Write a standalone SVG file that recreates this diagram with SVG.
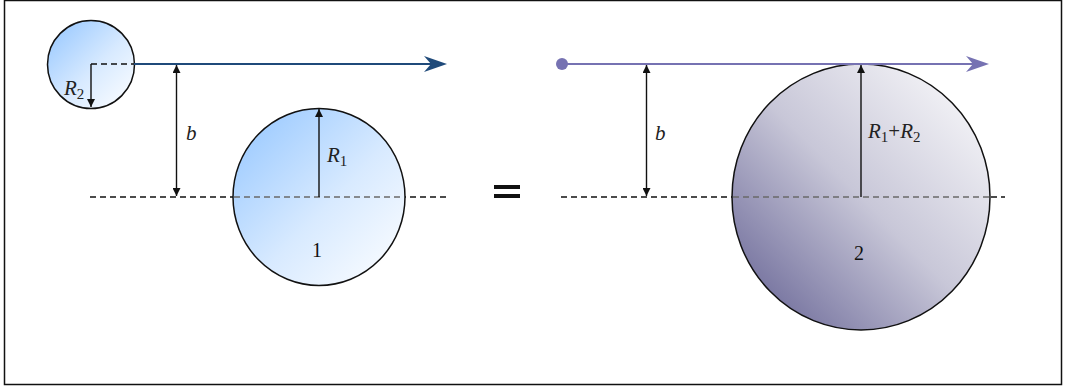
<svg xmlns="http://www.w3.org/2000/svg" width="1065" height="392" viewBox="0 0 1065 392">
<style>
.ring{stroke:#111;stroke-width:1.5}
.dash{stroke:#111;stroke-width:1.3;stroke-dasharray:6 4;fill:none}
.dashin{stroke:#6a6a6a;stroke-width:1.3;stroke-dasharray:6 4;fill:none}
.dim{stroke:#111;stroke-width:1.4;fill:none}
text{font-family:'Liberation Serif','Times New Roman',serif}
.it{font-style:italic;font-size:21px;fill:#222}
.sub{font-style:normal;font-size:15px}
.num{font-size:20px;fill:#111}
</style>
<defs>
<linearGradient id="gBlue" x1="0" y1="0" x2="1" y2="1">
<stop offset="0" stop-color="#92c5ff"/>
<stop offset="0.55" stop-color="#d8eaff"/>
<stop offset="1" stop-color="#ffffff"/>
</linearGradient>
<linearGradient id="gPurp" x1="0" y1="1" x2="1" y2="0">
<stop offset="0" stop-color="#5d5a8e"/>
<stop offset="0.5" stop-color="#c8c7d8"/>
<stop offset="1" stop-color="#ffffff"/>
</linearGradient>
<marker id="ah" viewBox="0 0 10 10" refX="10" refY="5" markerWidth="8" markerHeight="8" markerUnits="userSpaceOnUse" orient="auto-start-reverse">
<path d="M0,0 L10,5 L0,10 z" fill="#111"/>
</marker>
</defs>
<rect x="4.5" y="0.5" width="1057" height="384" fill="#fff" stroke="#111" stroke-width="1.5"/>

<g id="connectors">
<line class="dash" x1="90" y1="197" x2="447" y2="197"/>
<line class="dash" x1="561" y1="197" x2="1005" y2="197"/>
</g>

<g id="small-circle">
<ellipse cx="91" cy="64.5" rx="43.5" ry="44" fill="url(#gBlue)" class="ring"/>
</g>
<g id="circle-1">
<ellipse cx="319" cy="197" rx="86" ry="88.5" fill="url(#gBlue)" class="ring"/>
<text class="num" x="317" y="257" text-anchor="middle">1</text>
</g>
<g id="circle-2">
<ellipse cx="861" cy="197" rx="129" ry="133" fill="url(#gPurp)" class="ring"/>
<text class="num" x="859" y="260" text-anchor="middle">2</text>
</g>

<g id="overlays">
<line class="dashin" x1="234" y1="197" x2="404" y2="197"/>
<line class="dashin" x1="733" y1="197" x2="989" y2="197"/>
<line x1="134" y1="64" x2="440" y2="64" stroke="#1f4a7a" stroke-width="2.2"/>
<path d="M447,64 L424,56 L431,64 L424,72 z" fill="#1f4a7a"/>
<line class="dash" x1="91" y1="64" x2="134" y2="64"/>
<line class="dim" x1="91" y1="64" x2="91" y2="107" marker-end="url(#ah)"/>
<line class="dim" x1="176.5" y1="65" x2="176.5" y2="196" marker-start="url(#ah)" marker-end="url(#ah)"/>
<line class="dim" x1="319" y1="197" x2="319" y2="109" marker-end="url(#ah)"/>
<circle cx="562" cy="64" r="6" fill="#7672b2"/>
<line x1="562" y1="64" x2="982" y2="64" stroke="#7672b2" stroke-width="2.2"/>
<path d="M989,64 L966,56 L973,64 L966,72 z" fill="#7672b2"/>
<line class="dim" x1="646.5" y1="65" x2="646.5" y2="196" marker-start="url(#ah)" marker-end="url(#ah)"/>
<line class="dim" x1="861" y1="197" x2="861" y2="65" marker-end="url(#ah)"/>
</g>

<g id="labels">
<text class="it" x="64" y="95">R<tspan class="sub" dy="4">2</tspan></text>
<text class="it" x="186" y="140">b</text>
<text class="it" x="327" y="162">R<tspan class="sub" dy="4">1</tspan></text>
<text class="it" x="655" y="140">b</text>
<text class="it" x="868" y="138">R<tspan class="sub" dy="4">1</tspan><tspan font-style="normal" dy="-4">+</tspan>R<tspan class="sub" dy="4">2</tspan></text>
<g id="equals">
<rect x="494" y="185" width="26" height="4" fill="#111"/>
<rect x="494" y="194" width="26" height="4" fill="#111"/>
</g>
</g>
</svg>
